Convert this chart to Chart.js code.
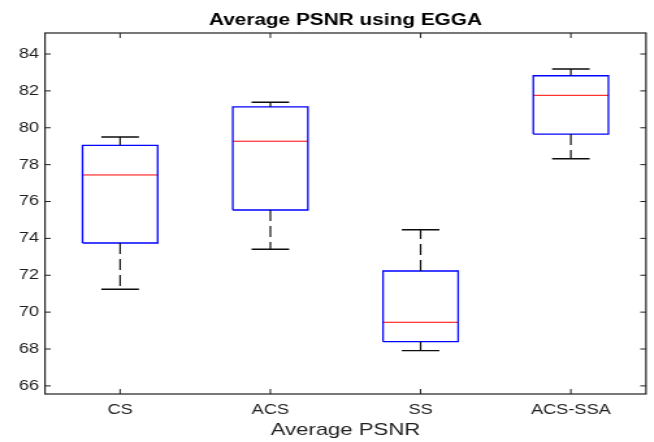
<!DOCTYPE html>
<html>
<head>
<meta charset="utf-8">
<script src="https://cdn.jsdelivr.net/npm/chart.js@4/dist/chart.umd.min.js"></script>
<style>
  html, body { margin: 0; padding: 0; background: #fff; overflow: hidden; }
  /* the figure is drawn narrow and widened horizontally, like the exported plot */
  #wrap { width: 503px; height: 442px; transform: scaleX(1.3); transform-origin: 0 0; }
</style>
</head>
<body>
<div id="wrap"><canvas id="c" width="503" height="442"></canvas></div>
<script>
// Box plot statistics per method (PSNR, dB)
const categories  = ['CS', 'ACS', 'SS', 'ACS-SSA'];
const whiskerLow  = [71.24, 73.41, 67.91, 78.32];
const quartile1   = [73.75, 75.54, 68.40, 79.66];
const medians     = [77.44, 79.27, 69.45, 81.76];
const quartile3   = [79.05, 81.13, 72.23, 82.82];
const whiskerHigh = [79.50, 81.38, 74.47, 83.19];
const yTicks      = [66, 68, 70, 72, 74, 76, 78, 80, 82, 84];

const FONT = '"Liberation Sans", Arial, sans-serif';
const AXIS_COLOR = '#1f1f1f';
const WHISKER_COLOR = '#0d0d0d';
const BOX_HALF = 0.25;
const CAP_HALF = 0.125;

function seg(points, color, width, dash) {
  return {
    data: points,
    showLine: true,
    borderColor: color,
    borderWidth: width,
    borderDash: dash || [],
    pointRadius: 0,
    pointHoverRadius: 0,
    fill: false,
    tension: 0
  };
}

const datasets = [];
categories.forEach((name, i) => {
  const x = i + 1;
  // dashed whiskers, starting at the box edge
  datasets.push(seg([{x, y: quartile3[i]}, {x, y: whiskerHigh[i]}], WHISKER_COLOR, 1.2, [11, 5]));
  datasets.push(seg([{x, y: quartile1[i]}, {x, y: whiskerLow[i]}], WHISKER_COLOR, 1.2, [11, 5]));
  // whisker caps
  datasets.push(seg([{x: x - CAP_HALF, y: whiskerHigh[i]}, {x: x + CAP_HALF, y: whiskerHigh[i]}], WHISKER_COLOR, 1.4));
  datasets.push(seg([{x: x - CAP_HALF, y: whiskerLow[i]}, {x: x + CAP_HALF, y: whiskerLow[i]}], WHISKER_COLOR, 1.4));
  // box
  datasets.push(seg([
    {x: x - BOX_HALF, y: quartile1[i]}, {x: x + BOX_HALF, y: quartile1[i]},
    {x: x + BOX_HALF, y: quartile3[i]}, {x: x - BOX_HALF, y: quartile3[i]},
    {x: x - BOX_HALF, y: quartile1[i]}
  ], '#0000ff', 1.3));
  // median
  datasets.push(seg([{x: x - BOX_HALF, y: medians[i]}, {x: x + BOX_HALF, y: medians[i]}], '#ff0000', 1));
});

// Axes frame with inward ticks on all four sides
const framePlugin = {
  id: 'frame',
  afterDatasetsDraw(chart) {
    const {ctx, chartArea: a, scales: {x, y}} = chart;
    ctx.save();
    ctx.strokeStyle = AXIS_COLOR;
    ctx.lineWidth = 1.2;
    ctx.strokeRect(a.left, a.top, a.right - a.left, a.bottom - a.top);
    ctx.lineWidth = 1;
    ctx.beginPath();
    y.ticks.forEach((t, i) => {
      const py = y.getPixelForTick(i);
      ctx.moveTo(a.left, py); ctx.lineTo(a.left + 4.4, py);
      ctx.moveTo(a.right, py); ctx.lineTo(a.right - 4.4, py);
    });
    x.ticks.forEach((t, i) => {
      const px = x.getPixelForTick(i);
      ctx.moveTo(px, a.bottom); ctx.lineTo(px, a.bottom - 5);
      ctx.moveTo(px, a.top); ctx.lineTo(px, a.top + 5);
    });
    ctx.stroke();
    ctx.restore();
  }
};

new Chart(document.getElementById('c'), {
  type: 'scatter',
  data: { datasets },
  plugins: [framePlugin],
  options: {
    responsive: false,
    animation: false,
    events: [],
    layout: { padding: { left: 0, right: 6.1, top: 0, bottom: 0 } },
    plugins: {
      legend: { display: false },
      tooltip: { enabled: false },
      title: {
        display: true,
        fullSize: false,
        text: 'Average PSNR using EGGA',
        color: '#000',
        font: { family: FONT, size: 16, weight: 'bold', lineHeight: 1.2 },
        padding: { top: 11.3, bottom: 2.5 }
      }
    },
    scales: {
      x: {
        type: 'linear',
        min: 0.5,
        max: 4.5,
        afterBuildTicks: s => { s.ticks = categories.map((c, i) => ({ value: i + 1 })); },
        afterFit: s => { s.height = 48; },
        grid: { display: false, drawTicks: false },
        border: { display: false },
        ticks: {
          color: AXIS_COLOR,
          font: { family: FONT, size: 14 },
          padding: 8,
          maxRotation: 0,
          autoSkip: false,
          callback: v => categories[Math.round(v) - 1]
        },
        title: {
          display: true,
          text: 'Average PSNR',
          color: AXIS_COLOR,
          font: { family: FONT, size: 17, lineHeight: 1.2 },
          padding: { top: 0, bottom: 1.8 }
        }
      },
      y: {
        type: 'linear',
        min: 65.56,
        max: 85.14,
        afterBuildTicks: s => { s.ticks = yTicks.map(v => ({ value: v })); },
        afterFit: s => { s.width = 34.6; },
        grid: { display: false, drawTicks: false },
        border: { display: false },
        ticks: {
          color: AXIS_COLOR,
          font: { family: FONT, size: 14 },
          padding: 4.6,
          autoSkip: false,
          callback: v => String(v)
        }
      }
    }
  }
});
</script>
</body>
</html>
